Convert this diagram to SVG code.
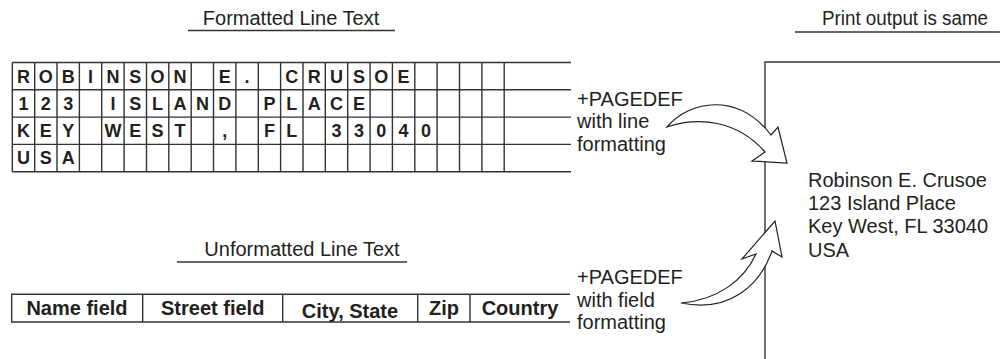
<svg xmlns="http://www.w3.org/2000/svg" width="1000" height="359" viewBox="0 0 1000 359">
<style>
text{font-family:"Liberation Sans",Arial,sans-serif;fill:#231f20}
.t{font-size:20px}
.g{font-size:18px;font-weight:bold;text-anchor:middle}
.b{font-size:20px;font-weight:bold;text-anchor:middle}
.ln{stroke:#333;stroke-width:1.4;fill:none}
.arr{fill:#fff;stroke:#231f20;stroke-width:1.2;stroke-linejoin:miter}
</style>
<rect width="1000" height="359" fill="#fff"/>
<g id="title-formatted">
<text class="t" x="291" y="25" text-anchor="middle">Formatted Line Text</text>
<line class="ln" x1="188" y1="30.5" x2="395" y2="30.5"/>
</g>
<g id="title-print">
<text class="t" x="905" y="25" text-anchor="middle" textLength="166" lengthAdjust="spacingAndGlyphs">Print output is same</text>
<line class="ln" x1="795" y1="32" x2="1000" y2="32"/>
</g>
<g id="title-unformatted">
<text class="t" x="302" y="256" text-anchor="middle">Unformatted Line Text</text>
<line class="ln" x1="177" y1="262" x2="407" y2="262"/>
</g>
<g id="formatted-grid">
<path class="ln" d="M12.3,62.5H571M12.3,89.8H571M12.3,117.1H571M12.3,144.4H571M12.3,171.7H571"/>
<path class="ln" d="M12.3,62.5V171.7M34.7,62.5V171.7M57,62.5V171.7M79.4,62.5V171.7M101.7,62.5V171.7M124.1,62.5V171.7M146.5,62.5V171.7M168.8,62.5V171.7M191.2,62.5V171.7M213.5,62.5V171.7M235.9,62.5V171.7M258.3,62.5V171.7M280.6,62.5V171.7M303,62.5V171.7M325.3,62.5V171.7M347.7,62.5V171.7M370.1,62.5V171.7M392.4,62.5V171.7M414.8,62.5V171.7M437.1,62.5V171.7M459.5,62.5V171.7M481.9,62.5V171.7M504.2,62.5V171.7"/>
<text class="g" x="23.5 45.8 68.2 90.5 112.9 135.3 157.6 180 202.4 224.7 247.1 269.5 291.8 314.2 336.5 358.9 381.3 403.6" y="82.5">ROBINSON E. CRUSOE</text>
<text class="g" x="23.5 45.8 68.2 90.5 112.9 135.3 157.6 180 202.4 224.7 247.1 269.5 291.8 314.2 336.5 358.9" y="109.8">123 ISLAND PLACE</text>
<text class="g" x="23.5 45.8 68.2 90.5 112.9 135.3 157.6 180 202.4 224.7 247.1 269.5 291.8 314.2 336.5 358.9 381.3 403.6 426" y="137.1">KEY WEST , FL 33040</text>
<text class="g" x="23.5 45.8 68.2" y="164.4">USA</text>
</g>
<g id="unformatted-table">
<path class="ln" d="M570,294.3H11.7V322H570M142.7,294.3V322M282.7,294.3V322M417.7,294.3V322M470,294.3V322"/>
<text class="b" x="77" y="315">Name field</text>
<text class="b" x="212.7" y="315">Street field</text>
<text class="b" x="350" y="318">City, State</text>
<text class="b" x="444" y="315">Zip</text>
<text class="b" x="520" y="315">Country</text>
</g>
<g id="label-line">
<text class="t" x="577" y="105.5">+PAGEDEF</text>
<text class="t" x="577" y="128">with line</text>
<text class="t" x="577" y="150.5">formatting</text>
</g>
<g id="label-field">
<text class="t" x="577" y="284">+PAGEDEF</text>
<text class="t" x="577" y="306.5">with field</text>
<text class="t" x="577" y="329">formatting</text>
</g>
<g id="print-page">
<path class="ln" d="M1000,62H765V359"/>
<text class="t" x="808" y="186.5">Robinson E. Crusoe</text>
<text class="t" x="808" y="210">123 Island Place</text>
<text class="t" x="808" y="233.3">Key West, FL 33040</text>
<text class="t" x="808" y="256.7">USA</text>
</g>
<g id="connectors">
<path class="arr" d="M667,127 C690,100 738,92 771,135 L778,127 L787,163 L752,161 L765,152 C738,121 700,116 667,127 Z"/>
<path class="arr" d="M681,303 C718,300 744,280 756,254 L742,259 L775,221 L782,257 L772,251 C760,285 730,313 681,303 Z"/>
</g>
</svg>
